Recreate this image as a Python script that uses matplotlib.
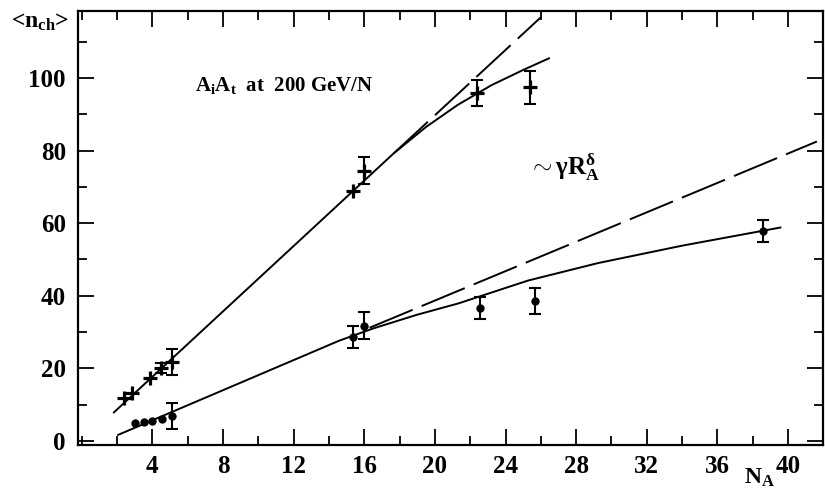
import matplotlib
matplotlib.use("Agg")
import matplotlib.pyplot as plt
from matplotlib.ticker import MultipleLocator, FixedLocator

plt.rcParams['font.family'] = ['Liberation Serif', 'DejaVu Serif']
plt.rcParams['font.weight'] = 'bold'
plt.rcParams['mathtext.fontset'] = 'custom'
plt.rcParams['mathtext.rm'] = 'Liberation Serif:bold'
plt.rcParams['mathtext.bf'] = 'Liberation Serif:bold'
plt.rcParams['mathtext.it'] = 'Liberation Serif:bold'

# --- data: crosses (upper series) ---
cross_x = [2.38, 2.85, 3.85, 4.51, 5.13, 15.35, 15.97, 22.36, 25.38]
cross_y = [11.8, 13.3, 17.3, 20.1, 21.7, 68.8, 74.5, 95.8, 97.4]
cross_err = [0, 0, 0, 1.4, 3.6, 0, 3.8, 3.6, 4.6]

# --- data: dots (lower series) ---
dot_x = [3.04, 3.51, 3.98, 4.56, 5.13, 15.35, 15.97, 22.55, 25.69, 38.57]
dot_y = [4.9, 5.2, 5.5, 6.0, 6.9, 28.7, 31.8, 36.7, 38.6, 57.9]
dot_err = [0, 0, 0, 0, 3.7, 3.1, 3.6, 3.0, 3.5, 3.0]

# --- curves ---
up_solid_x = [1.82, 15.35, 17.66, 19.5, 21.3, 23.2, 25.0, 26.46]
up_solid_y = [7.9, 68.8, 79.2, 86.5, 92.6, 98.0, 102.2, 105.4]
up_dash_x = [17.66, 26.0]
up_dash_y = [79.2, 116.7]

low_solid_x = [2.06, 14.56, 16.5, 19.0, 21.33, 25.28, 29.23, 34.0, 39.57]
low_solid_y = [1.7, 27.6, 31.0, 34.8, 37.9, 44.2, 49.0, 53.8, 58.8]
low_dash_x = [16.3, 41.64]
low_dash_y = [31.2, 82.5]

x_major = [4, 8, 12, 16, 20, 24, 28, 32, 36, 40]
y_major = [0, 20, 40, 60, 80, 100]

fig = plt.figure(figsize=(8.25, 4.9), dpi=100)
ax = fig.add_axes([0.0949, 0.0918, 0.903, 0.8862])

lw = 1.4
ax.plot(up_solid_x, up_solid_y, color='black', lw=lw)
ax.plot(up_dash_x, up_dash_y, color='black', lw=lw, dashes=(24, 5))
ax.plot(low_solid_x, low_solid_y, color='black', lw=lw)
ax.plot(low_dash_x, low_dash_y, color='black', lw=lw, dashes=(24, 5))

ax.plot(cross_x, cross_y, linestyle='none', marker='+', ms=10, mew=2.3, color='black')
ax.errorbar([x for x, e in zip(cross_x, cross_err) if e > 0],
            [y for y, e in zip(cross_y, cross_err) if e > 0],
            yerr=[e for e in cross_err if e > 0], fmt='none', ecolor='black',
            elinewidth=1.5, capsize=4, capthick=1.5)
ax.plot(dot_x, dot_y, linestyle='none', marker='o', ms=5, color='black')
ax.errorbar([x for x, e in zip(dot_x, dot_err) if e > 0],
            [y for y, e in zip(dot_y, dot_err) if e > 0],
            yerr=[e for e in dot_err if e > 0], fmt='none', ecolor='black',
            elinewidth=1.5, capsize=4, capthick=1.5)

ax.set_xlim(-0.2, 42.0)
ax.set_ylim(-1.1, 118.5)

ax.xaxis.set_major_locator(FixedLocator(x_major))
ax.xaxis.set_minor_locator(MultipleLocator(2))
ax.yaxis.set_major_locator(FixedLocator(y_major))
ax.yaxis.set_minor_locator(MultipleLocator(10))
ax.set_xticklabels([str(v) for v in x_major])
ax.set_yticklabels([str(v) for v in y_major])

ax.tick_params(which='both', direction='in', top=True, right=True, width=1.3,
               labelsize=18, color='black')
ax.tick_params(which='major', length=11.5)
ax.tick_params(axis='y', which='major', pad=9)
ax.tick_params(axis='x', which='major', pad=7)
ax.tick_params(which='minor', length=6.5)
for lab in ax.get_xticklabels() + ax.get_yticklabels():
    lab.set_fontweight('bold')
for s in ax.spines.values():
    s.set_linewidth(1.6)

ax.text(6.4, 98.0, r'A$_{\mathbf{i}}$A$_{\mathbf{t}}$  at  200 GeV/N', fontsize=15,
        fontweight='bold', ha='left', va='center')
ax.text(25.3, 75.5, r'$\sim$γR$_{\mathbf{A}}^{\mathrm{δ}}$', fontsize=18,
        fontweight='bold', ha='left', va='center')

fig.text(40 / 825, 1 - 22 / 490, r'<n$_{\mathbf{ch}}$>', fontsize=17,
         fontweight='bold', ha='center', va='center')
fig.text(760 / 825, 1 - 478 / 490, r'N$_{\mathbf{A}}$', fontsize=17,
         fontweight='bold', ha='center', va='center')

fig.savefig('out.png', dpi=100, facecolor='white')
